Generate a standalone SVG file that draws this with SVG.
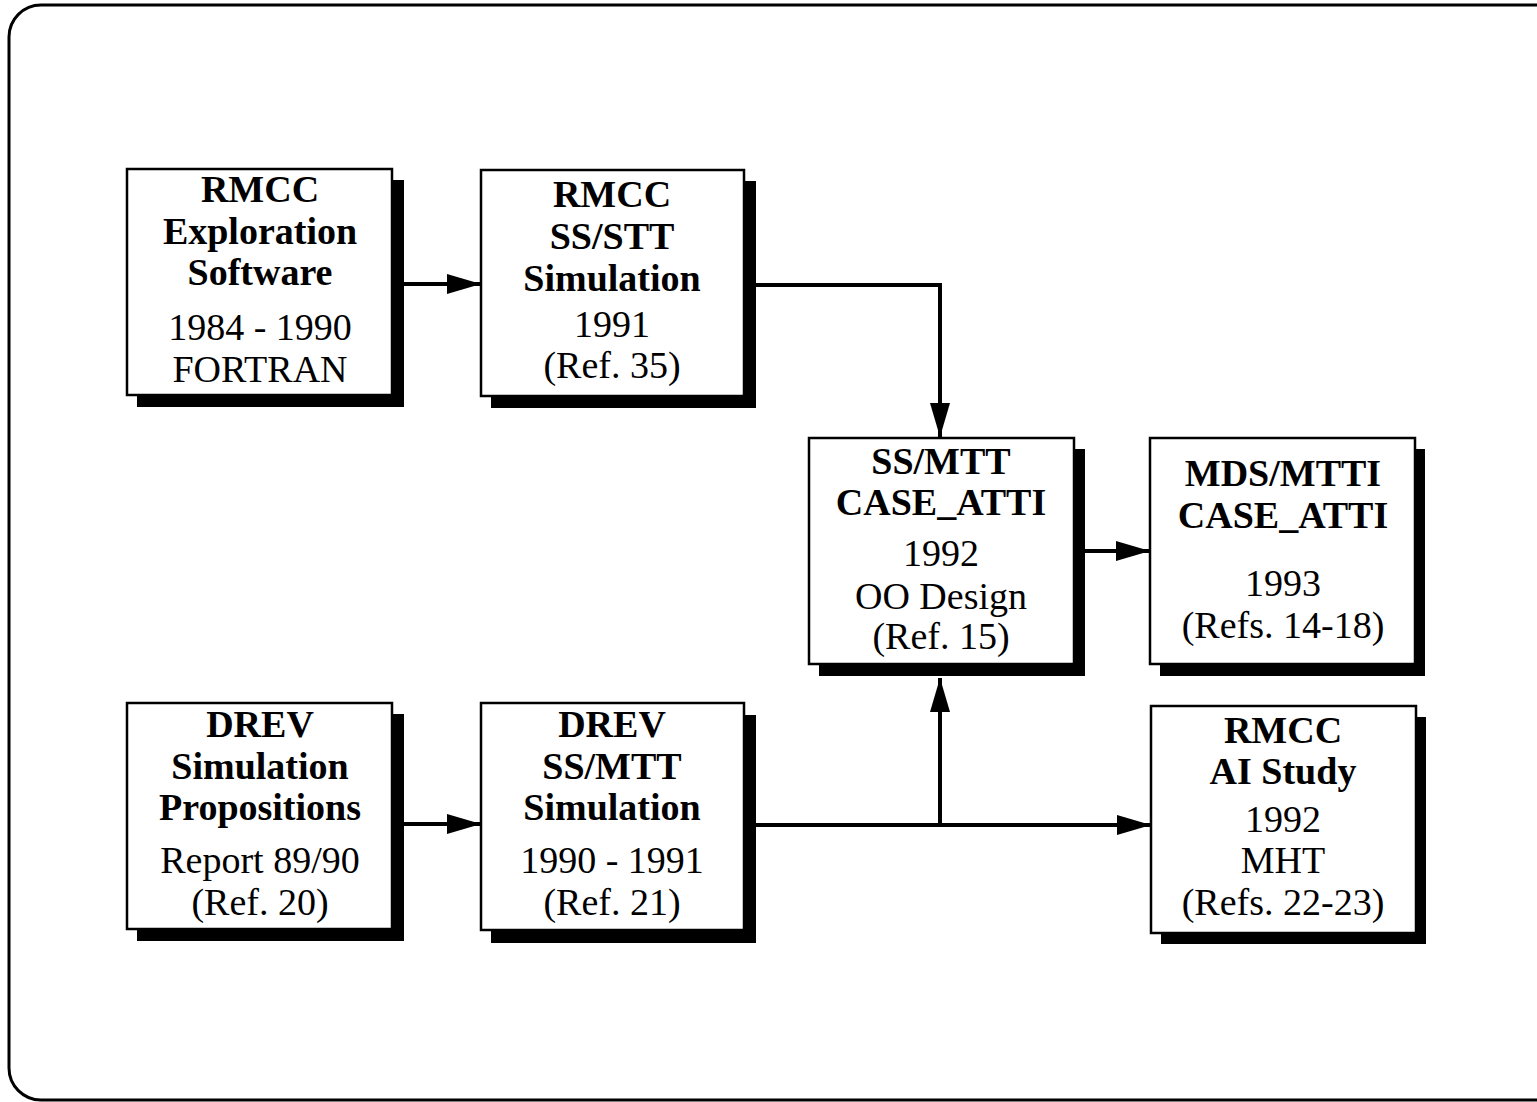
<svg xmlns="http://www.w3.org/2000/svg" width="1537" height="1102" viewBox="0 0 1537 1102">
<style>
.frame{fill:#fff;stroke:#000;stroke-width:3}
.shadow{fill:#000}
.box{fill:#fff;stroke:#000;stroke-width:2.5}
text{font-family:"Liberation Serif","Times New Roman",serif;font-size:38px;text-anchor:middle;fill:#000}
.b{font-weight:bold}
.conn{fill:none;stroke:#000;stroke-width:4}
</style>
<defs>
<marker id="ah" markerUnits="userSpaceOnUse" markerWidth="34" markerHeight="20" refX="34" refY="10" orient="auto">
<path d="M0,0 L34,10 L0,20 Z" fill="#000"/>
</marker>
</defs>
<rect class="frame" x="9" y="5" width="1560" height="1095" rx="32" ry="32"/>
<g id="connectors">
<line class="conn" x1="404" y1="284" x2="481" y2="284" marker-end="url(#ah)"/>
<polyline class="conn" points="756,285 940,285 940,437" marker-end="url(#ah)"/>
<line class="conn" x1="1085" y1="551" x2="1150" y2="551" marker-end="url(#ah)"/>
<line class="conn" x1="404" y1="824" x2="481" y2="824" marker-end="url(#ah)"/>
<line class="conn" x1="756" y1="825" x2="1151" y2="825" marker-end="url(#ah)"/>
<line class="conn" x1="940" y1="825" x2="940" y2="678" marker-end="url(#ah)"/>
</g>
<g id="n1">
<rect class="shadow" x="137" y="180" width="267" height="227"/>
<rect class="box" x="127" y="169" width="265" height="226"/>
<text class="b" x="260" y="202">RMCC</text>
<text class="b" x="260" y="244">Exploration</text>
<text class="b" x="260" y="285">Software</text>
<text x="260" y="340">1984 - 1990</text>
<text x="260" y="382">FORTRAN</text>
</g>
<g id="n2">
<rect class="shadow" x="491" y="181" width="265" height="227"/>
<rect class="box" x="481" y="170" width="263" height="226"/>
<text class="b" x="612" y="207">RMCC</text>
<text class="b" x="612" y="249">SS/STT</text>
<text class="b" x="612" y="291">Simulation</text>
<text x="612" y="337">1991</text>
<text x="612" y="378">(Ref. 35)</text>
</g>
<g id="n3">
<rect class="shadow" x="819" y="449" width="266" height="227"/>
<rect class="box" x="809" y="438" width="265" height="226"/>
<text class="b" x="941" y="474">SS/MTT</text>
<text class="b" x="941" y="515">CASE_ATTI</text>
<text x="941" y="566">1992</text>
<text x="941" y="609">OO Design</text>
<text x="941" y="649">(Ref. 15)</text>
</g>
<g id="n4">
<rect class="shadow" x="1160" y="449" width="265" height="227"/>
<rect class="box" x="1150" y="438" width="265" height="226"/>
<text class="b" x="1283" y="486">MDS/MTTI</text>
<text class="b" x="1283" y="528">CASE_ATTI</text>
<text x="1283" y="596">1993</text>
<text x="1283" y="638">(Refs. 14-18)</text>
</g>
<g id="n5">
<rect class="shadow" x="137" y="714" width="267" height="227"/>
<rect class="box" x="127" y="703" width="265" height="226"/>
<text class="b" x="260" y="737">DREV</text>
<text class="b" x="260" y="779">Simulation</text>
<text class="b" x="260" y="820">Propositions</text>
<text x="260" y="873">Report 89/90</text>
<text x="260" y="915">(Ref. 20)</text>
</g>
<g id="n6">
<rect class="shadow" x="491" y="715" width="265" height="228"/>
<rect class="box" x="481" y="703" width="263" height="227"/>
<text class="b" x="612" y="737">DREV</text>
<text class="b" x="612" y="779">SS/MTT</text>
<text class="b" x="612" y="820">Simulation</text>
<text x="612" y="873">1990 - 1991</text>
<text x="612" y="915">(Ref. 21)</text>
</g>
<g id="n7">
<rect class="shadow" x="1161" y="717" width="265" height="227"/>
<rect class="box" x="1151" y="706" width="265" height="227"/>
<text class="b" x="1283" y="743">RMCC</text>
<text class="b" x="1283" y="784">AI Study</text>
<text x="1283" y="832">1992</text>
<text x="1283" y="873">MHT</text>
<text x="1283" y="915">(Refs. 22-23)</text>
</g>
</svg>
